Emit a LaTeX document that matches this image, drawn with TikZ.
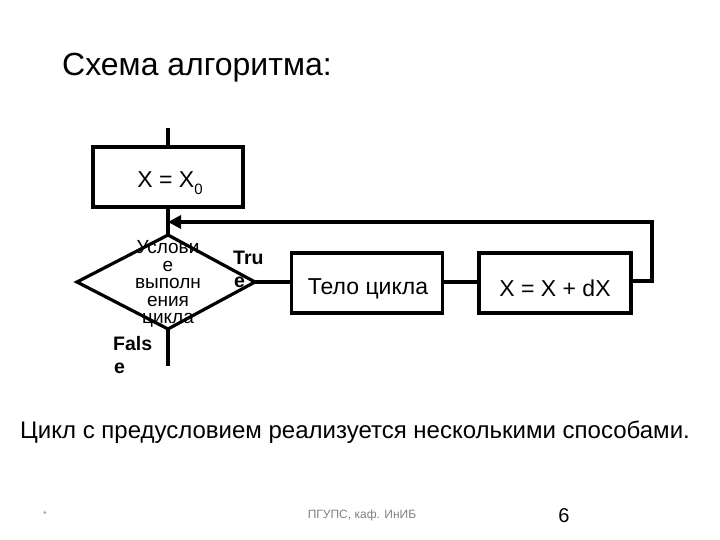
\documentclass[tikz,border=0pt]{standalone}
\usepackage{fontspec}
\setmainfont{Liberation Sans}
\usetikzlibrary{arrows.meta}
\tikzset{
  blk/.style={draw, line width=3.2pt, inner sep=0pt},
  ln/.style={line width=3.2pt},
  lbl/.style={inner sep=0pt, anchor=center},
  tf/.style={lbl, anchor=west, font=\bfseries\fontsize{19.5}{20}\selectfont},
  bt/.style={lbl, font=\fontsize{23}{25}\selectfont},
}
\begin{document}
\begin{tikzpicture}[x=1pt,y=-1pt]
\useasboundingbox (0,0) rectangle (720,540);
\node[lbl, anchor=west, font=\fontsize{32}{34}\selectfont] (title) at (62,68) {Схема алгоритма:};
\coordinate (top) at (168,128);
\node[blk, minimum width=150pt, minimum height=60pt] (init) at (168,177) {};
\node[bt] (initt) at (170,183) {X = X\raisebox{-0.3em}{\fontsize{15}{16}\selectfont 0}};
\coordinate (dt) at (168,235);
\coordinate (dl) at (77,282);
\coordinate (dr) at (255,282);
\coordinate (db) at (168,329);
\draw[ln, line join=miter] (dt) -- (dr) -- (db) -- (dl) -- cycle;
\node[lbl, align=center, font=\fontsize{19}{17.5}\selectfont] (cond) at (168,284) {Услови\\е\\выполн\\ения\\цикла};
\coordinate (bot) at (168,366);
\node[blk, minimum width=151pt, minimum height=60pt] (body) at (367,283) {};
\node[bt] (bodyt) at (368,289) {Тело цикла};
\node[blk, minimum width=152pt, minimum height=60pt] (inc) at (555,283) {};
\node[bt] (inct) at (555,288) {X = X + dX};
\draw[ln] (top) -- (init.north);
\draw[ln] (init.south) -- (dt);
\draw[ln] (db) -- (bot);
\draw[ln] (dr) -- (body.west |- dr);
\draw[ln] (body.east |- dr) -- (inc.west |- dr);
\coordinate (c1) at (652,281);
\coordinate (c2) at (652,222);
\coordinate (c3) at (168,222);
\draw[ln, line join=miter, -{Triangle[length=13pt,width=13pt]}] (inc.east |- c1) -- (c1) -- (c2) -- (c3);
\node[tf] (tru) at (233,258) {Tru};
\node[tf] (tre) at (234,282) {e};
\node[tf] (fal) at (113,344) {Fals};
\node[tf] (fae) at (114,368) {e};
\node[lbl, anchor=west, font=\fontsize{24}{26}\selectfont] (note) at (20,432) {Цикл с предусловием реализуется несколькими способами.};
\node[lbl, text=gray, font=\fontsize{9}{10}\selectfont] (star) at (45,514) {*};
\node[lbl, text=gray, font=\fontsize{12}{13}\selectfont] (foot) at (362,515) {ПГУПС, каф. ИнИБ};
\node[lbl, font=\fontsize{20}{22}\selectfont] (page) at (564,516) {6};
\end{tikzpicture}
\end{document}
